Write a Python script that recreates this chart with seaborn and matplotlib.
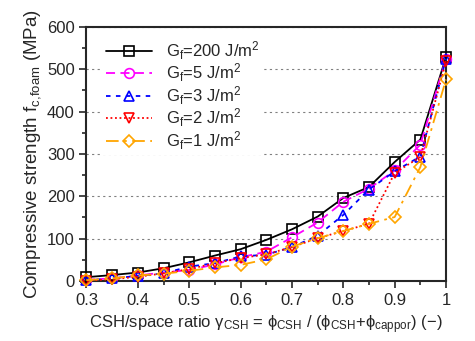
import matplotlib
import numpy as np
import pandas as pd

matplotlib.use("Agg")
import matplotlib.pyplot as plt
import seaborn as sns
from matplotlib.ticker import MultipleLocator

ratio = [0.3, 0.35, 0.4, 0.45, 0.5, 0.55, 0.6, 0.65, 0.7, 0.75, 0.8, 0.85, 0.9, 0.95, 1.0]

gf_200 = [9, 14, 20, 30, 44, 60, 75, 97, 122, 152, 196, 222, 281, 334, 529]
gf_5   = [3, 6, 13, 20, 26, 39, 56, 69, 103, 138, 187, 218, 261, 322, 525]
gf_3   = [2, 6, 12, 18, 34, 42, 58, 62, 80, 107, 156, 216, 259, 294, 525]
gf_2   = [1, 4, 10, 18, 28, 42, 54, 63, 80, 101, 118, 135, 255, 293, 519]
gf_1   = [2, 6, 13, 17, 24, 32, 38, 51, 81, 101, 118, 135, 151, 269, 476]

labels = [
    "G$_f$=200 J/m$^2$",
    "G$_f$=5 J/m$^2$",
    "G$_f$=3 J/m$^2$",
    "G$_f$=2 J/m$^2$",
    "G$_f$=1 J/m$^2$",
]
series = [gf_200, gf_5, gf_3, gf_2, gf_1]

styles = [
    dict(color="black", linestyle="-", marker="s"),
    dict(color="magenta", linestyle=(0, (5, 3)), marker="o"),
    dict(color="blue", linestyle=(0, (2.5, 3)), marker="^"),
    dict(color="red", linestyle=(0, (1, 1.5)), marker="v"),
    dict(color="orange", linestyle=(0, (7, 3, 1.5, 3)), marker="D"),
]

sns.set_style("ticks")
plt.rcParams["font.family"] = ["Liberation Sans", "DejaVu Sans"]
plt.rcParams["mathtext.fontset"] = "custom"
plt.rcParams["mathtext.rm"] = "Liberation Sans"
plt.rcParams["mathtext.it"] = "Liberation Sans:italic"
plt.rcParams["mathtext.default"] = "regular"

fig = plt.figure(figsize=(4.75, 3.41), dpi=100)
ax = fig.add_axes([0.182, 0.176, 0.757, 0.745])

for vals, lab, st in zip(series, labels, styles):
    df = pd.DataFrame({"x": ratio, "y": vals})
    sns.lineplot(
        data=df, x="x", y="y", ax=ax, label=lab,
        color=st["color"], linestyle=st["linestyle"], marker=st["marker"],
        markersize=7 if st["marker"] != "D" else 6,
        markerfacecolor="none", markeredgecolor=st["color"],
        markeredgewidth=1.2, linewidth=1.3, clip_on=False, zorder=3,
    )

ax.set_xlim(0.3, 1.0)
ax.set_ylim(0, 600)
ax.xaxis.set_major_locator(MultipleLocator(0.1))
ax.xaxis.set_minor_locator(MultipleLocator(0.05))
ax.yaxis.set_major_locator(MultipleLocator(100))
ax.yaxis.set_minor_locator(MultipleLocator(50))
ax.set_xticks(np.arange(0.3, 1.01, 0.1))
ax.set_xticklabels(["0.3", "0.4", "0.5", "0.6", "0.7", "0.8", "0.9", "1"])

ax.yaxis.grid(True, which="major", linestyle=(0, (2, 3)), color="gray", linewidth=0.8)
ax.set_axisbelow(True)

ax.tick_params(axis="both", which="major", labelsize=12, length=5, width=1.2, direction="out")
ax.tick_params(axis="both", which="minor", length=3, width=1.2, direction="out")
for sp in ax.spines.values():
    sp.set_linewidth(1.5)

ax.set_xlabel(
    "CSH/space ratio γ$_{CSH}$ = ϕ$_{CSH}$ / (ϕ$_{CSH}$+ϕ$_{cappor}$) (−)",
    fontsize=12, labelpad=4,
)
ax.set_ylabel("Compressive strength f$_{c{,}foam}$ (MPa)", fontsize=13.5, labelpad=3)

leg = ax.legend(
    loc="upper left", fontsize=12, frameon=True, fancybox=False,
    handlelength=2.8, handletextpad=0.8, labelspacing=0.0,
    borderaxespad=0.3, borderpad=0.2, bbox_to_anchor=(0.03, 0.985),
)
leg.get_frame().set_edgecolor("none")
leg.get_frame().set_facecolor("white")
leg.get_frame().set_alpha(1.0)

plt.savefig("out.png", dpi=100)
plt.close()
